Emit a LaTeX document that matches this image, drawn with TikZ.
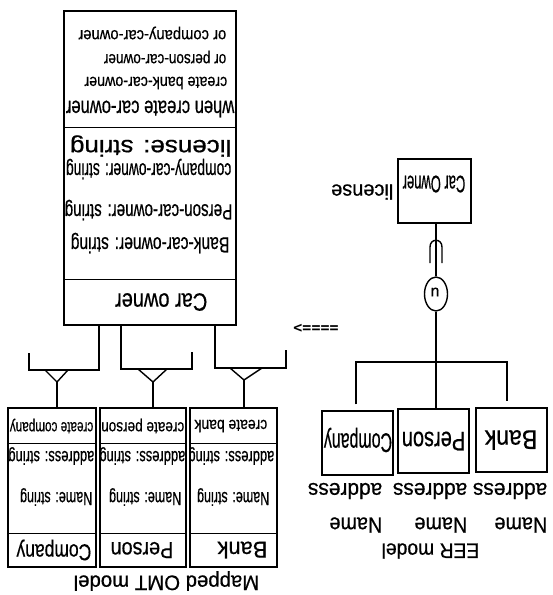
\documentclass[tikz,border=0pt]{standalone}
\usepackage{fontspec}
\usepackage{graphicx}
\setmainfont{Liberation Sans}[FakeBold=0.6]
\newfontfamily\monof{DejaVu Sans Mono}
\usetikzlibrary{shapes.geometric}
\newcommand\fs[1]{\fontsize{#1}{#1}\selectfont}
\newcommand\hs[2]{\scalebox{#1}[1]{#2}}
\tikzset{
  box/.style={draw, line width=1.4pt, inner sep=0pt, rectangle},
  t/.style={rotate=180, inner sep=0pt, anchor=west},
  tc/.style={rotate=180, inner sep=0pt, anchor=center},
}
\begin{document}
\begin{tikzpicture}[x=1pt,y=-1pt,line width=1.4pt]
\fill[white] (0,0) rectangle (553,595);
\useasboundingbox (0,0) rectangle (553,595);

% ---------- OMT Car owner ----------
\node[box, minimum width=172pt, minimum height=314pt] (carowner) at (150,168) {};
\draw ([yshift=-117pt]carowner.north west) -- ([yshift=-117pt]carowner.north east);
\draw ([yshift=46pt]carowner.south west) -- ([yshift=46pt]carowner.south east);
\node[t] (con) at (208,302) {\fs{25}\hs{0.8}{Car owner}};
\node[t] (ca1) at (230,243) {\fs{22}\hs{0.71}{Bank-car-owner: string}};
\node[t] (ca2) at (233,210) {\fs{22}\hs{0.69}{Person-car-owner: string}};
\node[t] (ca3) at (232,169) {\fs{22}\hs{0.63}{company-car-owner: string}};
\node[t] (ca4) at (232,146) {\fs{23}\hs{1.13}{license: string}};
\node[t] (cm1) at (235,109) {\fs{23}\hs{0.72}{when create car-owner}};
\node[t] (cm2) at (228,83) {\fs{17}\hs{0.84}{create bank-car-owner}};
\node[t] (cm3) at (227,57) {\fs{17}\hs{0.8}{or person-car-owner}};
\node[t] (cm4) at (227,33) {\fs{17}\hs{0.87}{or company-car-owner}};

% ---------- OMT subclasses ----------
\node[box, minimum width=88pt, minimum height=159pt] (omtcompany) at (52,487.5) {};
\node[box, minimum width=86pt, minimum height=159pt] (omtperson) at (143,487.5) {};
\node[box, minimum width=87pt, minimum height=159pt] (omtbank) at (233.5,487.5) {};
\foreach \b in {omtcompany,omtperson,omtbank}{
  \draw ([yshift=-36pt]\b.north west) -- ([yshift=-36pt]\b.north east);
  \draw ([yshift=34pt]\b.south west) -- ([yshift=34pt]\b.south east);
}
\node[t] (cc1) at (94,426) {\fs{17}\hs{0.69}{create company}};
\node[t] (cc2) at (95,456) {\fs{19}\hs{0.68}{address: string}};
\node[t] (cc3) at (93,497) {\fs{19}\hs{0.66}{Name: string}};
\node[t] (cc4) at (92,550) {\fs{23}\hs{0.76}{Company}};
\node[t] (pp1) at (185,426) {\fs{17}\hs{0.8}{create person}};
\node[t] (pp2) at (186,456) {\fs{19}\hs{0.68}{address: string}};
\node[t] (pp3) at (182,497) {\fs{19}\hs{0.66}{Name: string}};
\node[t] (pp4) at (174,550) {\fs{23}\hs{0.86}{Person}};
\node[t] (bb1) at (268,426) {\fs{17}\hs{0.82}{create bank}};
\node[t] (bb2) at (275,456) {\fs{19}\hs{0.68}{address: string}};
\node[t] (bb3) at (270,497) {\fs{19}\hs{0.66}{Name: string}};
\node[t] (bb4) at (268,550) {\fs{23}\hs{0.95}{Bank}};
\node[t] (omttitle) at (260,581) {\fs{21}\hs{0.97}{Mapped OMT model}};

% ---------- OMT generalisation connectors ----------
% Company
\coordinate (cj) at (99,370);
\coordinate (ct) at (29,370);
\coordinate (ca) at (57,382);
\draw (cj |- carowner.south) -- (cj) -- (ct) -- (29,353);
\draw (45,370) -- (ca) -- (68,370);
\draw (ca) -- (ca |- omtcompany.north);
% Person
\coordinate (pj) at (121,369);
\coordinate (pt) at (192,369);
\coordinate (pa) at (153,382);
\draw (pj |- carowner.south) -- (pj) -- (pt) -- (192,352);
\draw (138,369) -- (pa) -- (167,369);
\draw (pa) -- (pa |- omtperson.north);
% Bank
\coordinate (bj) at (215,368);
\coordinate (bt) at (286,368);
\coordinate (ba) at (244,380);
\draw (bj |- carowner.south) -- (bj) -- (bt) -- (286,350);
\draw (230,368) -- (ba) -- (262,368);
\draw (ba) -- (ba |- omtbank.north);

% ---------- arrow ----------
\node[tc] (arrow) at (316,328) {\monof\bfseries\fs{15}====>};

% ---------- EER ----------
\node[box, minimum width=73pt, minimum height=64pt] (eerowner) at (434.5,191) {};
\node[tc] (eerownert) at (434,184) {\fs{24}\hs{0.54}{Car Owner}};
\node[t] (lic) at (394,192) {\fs{21}\hs{0.95}{license}};
\node[draw, ellipse, inner sep=0pt, minimum width=23pt, minimum height=34pt] (union) at (436,294) {};
\node[tc] (unt) at (435,292) {\fs{16}u};
\draw (union.north |- eerowner.south) -- (union.north);
% subset symbol
\draw (430,263) -- (430,247) .. controls (430,238) and (442,238) .. (442,247) -- (442,263);

\node[box, minimum width=71pt, minimum height=64pt] (eercompany) at (357.5,443) {};
\node[box, minimum width=71pt, minimum height=64pt] (eerperson) at (433.5,441) {};
\node[box, minimum width=71pt, minimum height=64pt] (eerbank) at (511.5,440) {};
\node[tc] (eerct) at (358,440) {\fs{27}\hs{0.59}{Company}};
\node[tc] (eerpt) at (433.5,441) {\fs{27}\hs{0.74}{Person}};
\node[tc] (eerbt) at (511,440) {\fs{27}\hs{0.85}{Bank}};

\coordinate (hub) at (436,362);
\draw (union.south) -- (hub);
\draw ([yshift=6pt]eercompany.north -| 356,0) -- (356,362) -- (507,362) -- ([yshift=6pt]eerbank.north -| 507,0);
\draw (hub) -- (hub |- eerperson.north);

\node[t] (ba1) at (548,491) {\fs{22}\hs{0.95}{address}};
\node[t] (ba2) at (548,525) {\fs{22}\hs{0.9}{Name}};
\node[t] (pa1) at (468,491) {\fs{22}\hs{0.95}{address}};
\node[t] (pa2) at (468,525) {\fs{22}\hs{0.9}{Name}};
\node[t] (ca1e) at (383,491) {\fs{22}\hs{0.95}{address}};
\node[t] (ca2e) at (383,525) {\fs{22}\hs{0.9}{Name}};
\node[t] (eertitle) at (480,551) {\fs{21}\hs{0.92}{EER model}};
\end{tikzpicture}
\end{document}
